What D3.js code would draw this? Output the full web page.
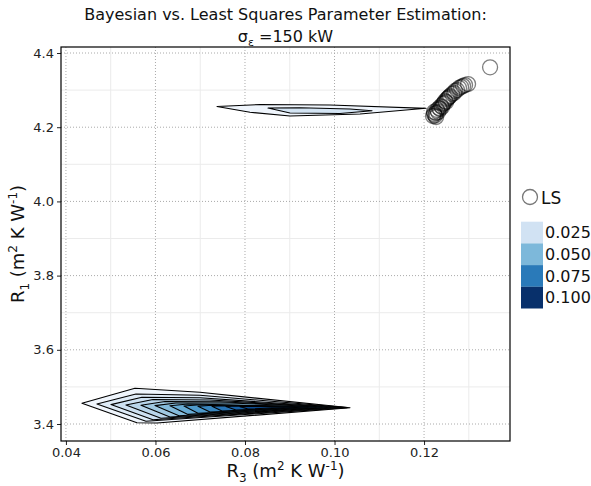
<!DOCTYPE html>
<html>
<head>
<meta charset="utf-8">
<script src="https://cdn.jsdelivr.net/npm/d3@7"></script>
<style>
  body { margin: 0; background: #fff; }
  svg text { font-family: "DejaVu Sans", sans-serif; }
</style>
</head>
<body>
<svg id="chart" width="591" height="486"></svg>
<script>
// tick values
const xTicks = [0.04, 0.06, 0.08, 0.10, 0.12];
const xMinor = [0.05, 0.07, 0.09, 0.11, 0.13];
const yTicks = [3.4, 3.6, 3.8, 4.0, 4.2, 4.4];
const yMinor = [3.5, 3.7, 3.9, 4.1, 4.3];

// posterior density contours, [R3, R1] vertices, outermost level first
const lowerLevels = [
  [[0.04358, 3.4558], [0.05542, 3.4962], [0.06994, 3.4854], [0.10346, 3.4439], [0.06034, 3.4027], [0.05587, 3.4035]],
  [[0.04693, 3.4539], [0.05564, 3.4809], [0.06994, 3.4776], [0.10279, 3.4442], [0.05788, 3.4073]],
  [[0.05006, 3.4523], [0.05698, 3.4720], [0.06994, 3.4706], [0.10212, 3.4445], [0.05944, 3.4113]],
  [[0.05341, 3.4512], [0.05944, 3.4660], [0.07218, 3.4647], [0.10145, 3.4447], [0.06123, 3.4154]],
  [[0.05676, 3.4504], [0.06212, 3.4606], [0.07441, 3.4598], [0.10078, 3.4450], [0.06324, 3.4189]],
  [[0.05989, 3.4496], [0.06458, 3.4566], [0.07665, 3.4566], [0.10011, 3.4453], [0.06525, 3.4224]],
  [[0.06324, 3.4491], [0.06726, 3.4539], [0.09922, 3.4456], [0.06726, 3.4259]],
  [[0.06637, 3.4485], [0.06994, 3.4518], [0.09832, 3.4458], [0.06950, 3.4291]],
  [[0.06950, 3.4480], [0.07263, 3.4504], [0.09721, 3.4458], [0.07218, 3.4323]],
  [[0.07263, 3.4477], [0.07553, 3.4493], [0.09587, 3.4458], [0.07486, 3.4350]],
  [[0.07575, 3.4472], [0.07844, 3.4485], [0.09408, 3.4458], [0.07799, 3.4377]],
  [[0.07888, 3.4469], [0.08112, 3.4477], [0.09117, 3.4458], [0.08067, 3.4404]]
];
const lowerFills = ['#eff5fc', '#deebf7', '#cde0f1', '#b9d5ea', '#a0c9e2', '#84bbdb',
  '#68acd5', '#4e9acb', '#3987c0', '#2774b6', '#1862a8', '#0b4d94'];

const upperLevels = [
  [[0.07374, 4.2558], [0.08335, 4.2612], [0.09899, 4.2598], [0.12045, 4.2509], [0.10570, 4.2356], [0.09006, 4.2302], [0.08112, 4.2402]],
  [[0.08514, 4.2517], [0.09229, 4.2523], [0.10346, 4.2491], [0.10838, 4.2442], [0.10123, 4.2369], [0.09006, 4.2383]]
];
const upperFills = ['#eff5fc', '#d3e4f3'];

// least squares estimates
const lsR3 = [0.12201, 0.12223, 0.12246, 0.12223, 0.12268, 0.12291, 0.12268, 0.12313, 0.12335, 0.12358,
  0.12380, 0.12402, 0.12425, 0.12447, 0.12469, 0.12492, 0.12514, 0.12536, 0.12559, 0.12581,
  0.12626, 0.12670, 0.12693, 0.12737, 0.12782, 0.12827, 0.12872, 0.12916, 0.12983, 0.13475];
const lsR1 = [4.2302, 4.2356, 4.2315, 4.2410, 4.2383, 4.2464, 4.2275, 4.2410, 4.2517, 4.2491,
  4.2571, 4.2544, 4.2625, 4.2652, 4.2706, 4.2679, 4.2760, 4.2787, 4.2814, 4.2841,
  4.2895, 4.2922, 4.2976, 4.3003, 4.3057, 4.3084, 4.3111, 4.3137, 4.3164, 4.3615];

// legend
const legendLabels = ['0.025', '0.050', '0.075', '0.100'];
const legendColors = ['#d1e2f3', '#7db8da', '#2a7ab9', '#08306b'];

const svg = d3.select('#chart');
const L = 61, R = 510, T = 47, B = 441;

const x = d3.scaleLinear().domain([0.0389, 0.1392]).range([L, R]);
const y = d3.scaleLinear().domain([3.3542, 4.4162]).range([B, T]);

// grid
const grid = svg.append('g');
grid.selectAll('.xm').data(xMinor).enter().append('line')
  .attr('x1', d => x(d)).attr('x2', d => x(d)).attr('y1', T).attr('y2', B)
  .attr('stroke', '#ebebeb').attr('stroke-width', 1);
grid.selectAll('.ym').data(yMinor).enter().append('line')
  .attr('y1', d => y(d)).attr('y2', d => y(d)).attr('x1', L).attr('x2', R)
  .attr('stroke', '#ebebeb').attr('stroke-width', 1);
grid.selectAll('.xg').data(xTicks).enter().append('line')
  .attr('x1', d => x(d)).attr('x2', d => x(d)).attr('y1', T).attr('y2', B)
  .attr('stroke', '#aaa').attr('stroke-width', 1).attr('stroke-dasharray', '1,2');
grid.selectAll('.yg').data(yTicks).enter().append('line')
  .attr('y1', d => y(d)).attr('y2', d => y(d)).attr('x1', L).attr('x2', R)
  .attr('stroke', '#aaa').attr('stroke-width', 1).attr('stroke-dasharray', '1,2');

// contours
const poly = d3.line().x(d => x(d[0])).y(d => y(d[1])).curve(d3.curveLinearClosed);
function drawLevels(levels, fills) {
  svg.append('g').selectAll('path').data(levels).enter().append('path')
    .attr('d', poly)
    .attr('fill', (d, i) => fills[i])
    .attr('stroke', '#000')
    .attr('stroke-width', 1.1)
    .attr('stroke-linejoin', 'round');
}
drawLevels(lowerLevels, lowerFills);
drawLevels(upperLevels, upperFills);

// LS points
svg.append('g').selectAll('circle').data(lsR3).enter().append('circle')
  .attr('cx', d => x(d))
  .attr('cy', (d, i) => y(lsR1[i]))
  .attr('r', 7.5)
  .attr('fill', 'none')
  .attr('stroke', '#000')
  .attr('stroke-opacity', 0.5)
  .attr('stroke-width', 1.3);

// axes
const xAxis = svg.append('g').attr('transform', `translate(0,${B})`)
  .call(d3.axisBottom(x).tickValues(xTicks).tickFormat(d3.format('.2f')).tickSize(4).tickSizeOuter(0));
const yAxis = svg.append('g').attr('transform', `translate(${L},0)`)
  .call(d3.axisLeft(y).tickValues(yTicks).tickFormat(d3.format('.1f')).tickSize(4).tickSizeOuter(0));
[xAxis, yAxis].forEach(a => {
  a.select('.domain').remove();
  a.selectAll('text').attr('font-size', 13).attr('fill', '#222')
    .attr('font-family', '"DejaVu Sans", sans-serif');
  a.selectAll('line').attr('stroke', '#222');
});

// panel border
svg.append('rect').attr('x', L).attr('y', T).attr('width', R - L).attr('height', B - T)
  .attr('fill', 'none').attr('stroke', '#000').attr('stroke-width', 1.2);

// title
svg.append('text').attr('text-anchor', 'middle').attr('font-size', 16).attr('fill', '#111')
  .attr('x', (L + R) / 2).attr('y', 20).text('Bayesian vs. Least Squares Parameter Estimation:');
const t2 = svg.append('text').attr('text-anchor', 'middle').attr('font-size', 16).attr('fill', '#111')
  .attr('x', (L + R) / 2).attr('y', 42);
t2.append('tspan').text('σ');
t2.append('tspan').attr('font-size', 11).attr('dy', 4).text('ε');
t2.append('tspan').attr('dy', -4).text(' =150 kW');

// axis labels
function unitLabel(sel, sub) {
  sel.append('tspan').text('R');
  sel.append('tspan').attr('font-size', 12).attr('dy', 5).text(sub);
  sel.append('tspan').attr('dy', -5).text(' (m');
  sel.append('tspan').attr('font-size', 12).attr('dy', -7).text('2');
  sel.append('tspan').attr('dy', 7).text(' K W');
  sel.append('tspan').attr('font-size', 12).attr('dy', -7).text('-1');
  sel.append('tspan').attr('dy', 7).text(')');
}
const xl = svg.append('text').attr('text-anchor', 'middle').attr('font-size', 18).attr('fill', '#111')
  .attr('x', (L + R) / 2).attr('y', 477);
unitLabel(xl, '3');
const yl = svg.append('text').attr('text-anchor', 'middle').attr('font-size', 18).attr('fill', '#111')
  .attr('transform', `translate(24,${(T + B) / 2}) rotate(-90)`);
unitLabel(yl, '1');

// legend
svg.append('circle').attr('cx', 530).attr('cy', 197).attr('r', 7.5)
  .attr('fill', 'none').attr('stroke', '#777').attr('stroke-width', 1.3);
svg.append('text').attr('x', 541).attr('y', 203.5).attr('font-size', 17).attr('fill', '#111').text('LS');

const leg = svg.append('g');
const boxH = 21.7, boxTop = 221.7;
leg.selectAll('rect').data(legendColors).enter().append('rect')
  .attr('x', 521).attr('y', (d, i) => boxTop + i * boxH)
  .attr('width', 22).attr('height', boxH).attr('fill', d => d);
leg.selectAll('text').data(legendLabels).enter().append('text')
  .attr('x', 545).attr('y', (d, i) => boxTop + i * boxH + boxH / 2)
  .attr('dy', '0.36em').attr('font-size', 16).attr('fill', '#111').text(d => d);
</script>
</body>
</html>
